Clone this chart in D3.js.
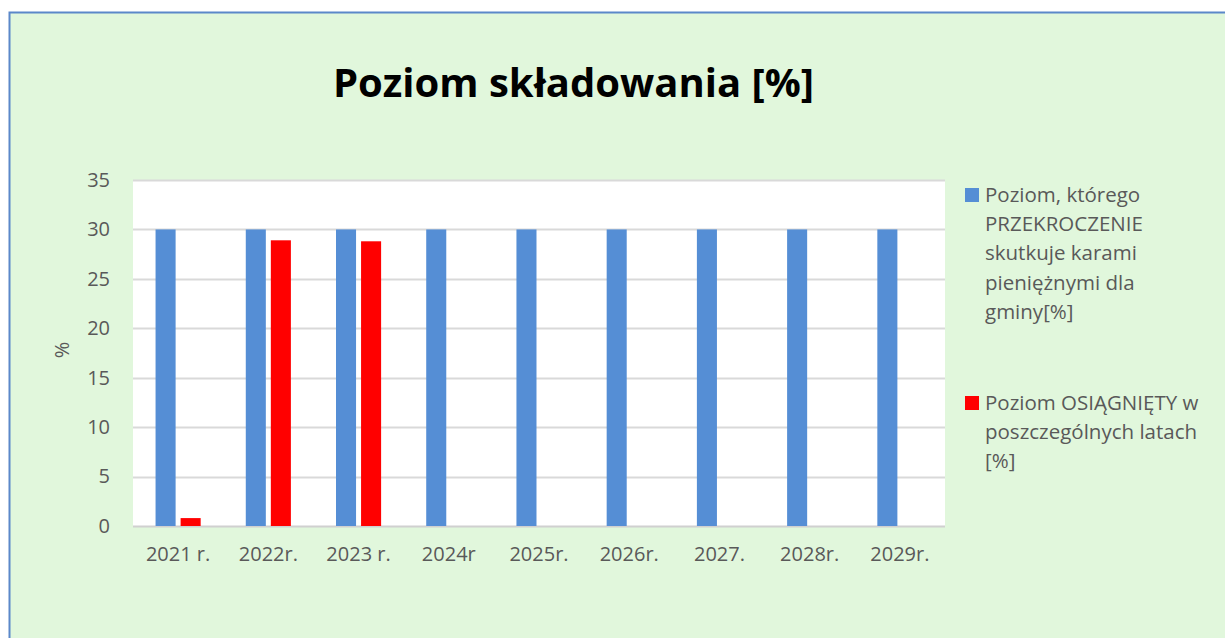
<!DOCTYPE html>
<meta charset="utf-8">
<head>
  <title>Poziom składowania</title>
</head>

<style>
body {
  margin: 0;
  background: #fff;
  font-family: "Open Sans", "Noto Sans", sans-serif;
}
</style>

<body>
  <div id="content"></div>

  <script src="https://cdnjs.cloudflare.com/ajax/libs/d3/7.8.5/d3.min.js"></script>

  <script>
// Data
var years = ['2021 r.', '2022r.', '2023 r.', '2024r', '2025r.', '2026r.', '2027.', '2028r.', '2029r.'];
var limitValues = [30, 30, 30, 30, 30, 30, 30, 30, 30];
var achievedValues = [0.8, 28.9, 28.8, null, null, null, null, null, null];
var yTicks = [0, 5, 10, 15, 20, 25, 30, 35];
var seriesNames = ['limit', 'achieved'];
var legendLines = [
  ['Poziom, którego', 'PRZEKROCZENIE', 'skutkuje karami', 'pieniężnymi dla', 'gminy[%]'],
  ['Poziom OSIĄGNIĘTY w', 'poszczególnych latach', '[%]']
];
var colors = {limit: '#558ed5', achieved: '#ff0000'};

var width = 1225, height = 638;

var svg = d3.select('#content').append('svg')
  .attr('width', width)
  .attr('height', height)
  .style('display', 'block');

// chart background + border
svg.append('rect')
  .attr('x', 9.5).attr('y', 12.5)
  .attr('width', width + 20).attr('height', height + 20)
  .attr('fill', '#e1f7dc')
  .attr('stroke', '#5b88c9')
  .attr('stroke-width', 2);

var plot = {left: 133, right: 945, top: 180, bottom: 526};

var x = d3.scaleBand()
  .domain(years)
  .range([plot.left, plot.right])
  .paddingInner(0.5)
  .paddingOuter(0.25);

var xs = d3.scaleBand()
  .domain(seriesNames)
  .range([0, x.bandwidth()])
  .paddingInner(0.2);

var y = d3.scaleLinear()
  .domain([0, 35])
  .range([plot.bottom, plot.top]);

// plot area
svg.append('rect')
  .attr('x', plot.left).attr('y', plot.top)
  .attr('width', plot.right - plot.left).attr('height', plot.bottom - plot.top)
  .attr('fill', '#fff');

// gridlines
svg.append('g')
  .selectAll('line')
  .data(yTicks)
  .join('line')
  .attr('x1', plot.left).attr('x2', plot.right)
  .attr('y1', function(d) { return Math.round(y(d)) + 0.5; })
  .attr('y2', function(d) { return Math.round(y(d)) + 0.5; })
  .attr('stroke', function(d) { return d === 0 ? '#d0d0d0' : '#d9d9d9'; })
  .attr('stroke-width', 2);

// bars
var rows = years.map(function(yr, i) {
  return {year: yr, values: [
    {key: 'limit', value: limitValues[i]},
    {key: 'achieved', value: achievedValues[i]}
  ]};
});

svg.append('g')
  .selectAll('g')
  .data(rows)
  .join('g')
  .attr('transform', function(d) { return 'translate(' + x(d.year) + ',0)'; })
  .selectAll('rect')
  .data(function(d) { return d.values.filter(function(v) { return v.value != null; }); })
  .join('rect')
  .attr('x', function(d) { return xs(d.key); })
  .attr('width', xs.bandwidth())
  .attr('y', function(d) { return y(d.value); })
  .attr('height', function(d) { return y(0) - y(d.value); })
  .attr('fill', function(d) { return colors[d.key]; });

// y axis
var yAxis = svg.append('g')
  .attr('transform', 'translate(' + (plot.left - 23) + ',0)')
  .call(d3.axisLeft(y).tickValues(yTicks).tickSize(0).tickPadding(0));
yAxis.select('.domain').remove();
yAxis.selectAll('text')
  .attr('fill', '#595959')
  .style('font-size', '20px')
  .style('font-family', '"Open Sans", sans-serif');

// x axis
var xAxis = svg.append('g')
  .attr('transform', 'translate(0,' + plot.bottom + ')')
  .call(d3.axisBottom(x).tickSize(0).tickPadding(21));
xAxis.select('.domain').remove();
xAxis.selectAll('text')
  .attr('fill', '#595959')
  .style('font-size', '20px')
  .style('font-family', '"Open Sans", sans-serif');

// y title
svg.append('text')
  .attr('transform', 'translate(69,350) rotate(-90)')
  .attr('text-anchor', 'middle')
  .attr('fill', '#595959')
  .style('font-size', '20px')
  .text('%');

// title
svg.append('text')
  .attr('x', 573.5)
  .attr('y', 97)
  .attr('text-anchor', 'middle')
  .attr('fill', '#000')
  .style('font-weight', 'bold')
  .style('font-size', '40px')
  .text('Poziom składowania [%]');

// legend
var legendTop = [188, 396];
var legend = svg.append('g');
legendLines.forEach(function(lines, i) {
  var key = seriesNames[i];
  legend.append('rect')
    .attr('x', 965).attr('y', legendTop[i])
    .attr('width', 14).attr('height', 14)
    .attr('fill', colors[key]);
  legend.append('text')
    .attr('fill', '#595959')
    .style('font-size', '20.5px')
    .selectAll('tspan')
    .data(lines)
    .join('tspan')
    .attr('x', 985)
    .attr('y', function(d, j) { return legendTop[i] + 14 + j * 29.2; })
    .text(function(d) { return d; });
});
  </script>
</body>
</html>
